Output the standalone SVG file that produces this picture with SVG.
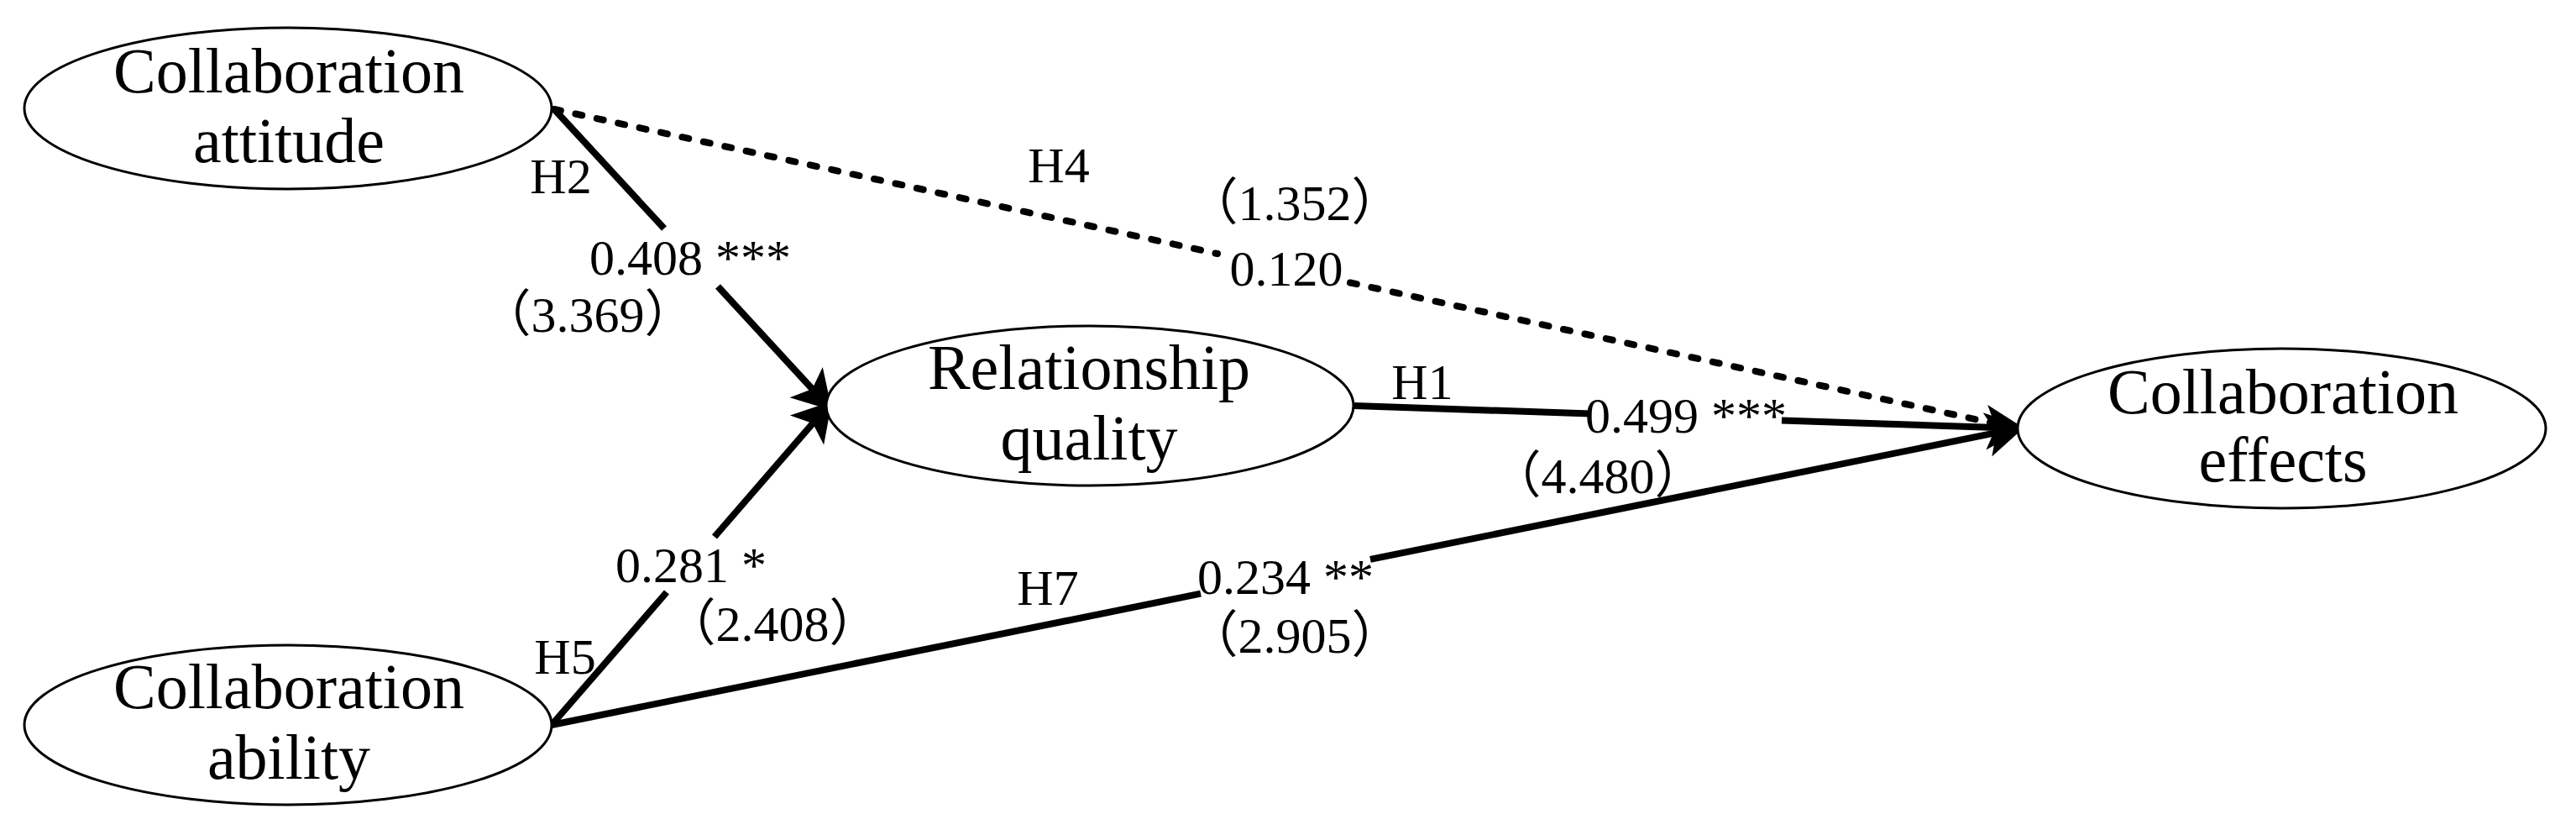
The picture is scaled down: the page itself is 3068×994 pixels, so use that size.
<svg xmlns="http://www.w3.org/2000/svg" width="3068" height="994" viewBox="0 0 3068 994">
<style>
.node ellipse{fill:#fff;stroke:#000;stroke-width:3}
.nt{font-family:'Liberation Serif','Noto Sans CJK SC',serif;font-size:76px;fill:#000;text-anchor:middle}
.lb{font-family:'Liberation Serif','Noto Sans CJK SC',serif;font-size:60px;fill:#000;text-anchor:middle}
.solid{fill:none;stroke:#000;stroke-width:8}
.dot{fill:none;stroke:#000;stroke-width:8;stroke-linecap:round;stroke-dasharray:8 18}
</style>
<defs>
<marker id="arr" markerUnits="userSpaceOnUse" orient="auto" markerWidth="80" markerHeight="80" refX="0" refY="0" viewBox="-20 -30 60 60" overflow="visible">
<path d="M26 0 L-8 -20 L0 0 L-8 20 Z" fill="#000"/>
</marker>
</defs>
<rect width="3068" height="994" fill="#fff"/>
<g id="connectors">
<path class="dot" d="M660 130 L1450 302 M1608 336.5 L2375 504"/>
<path class="solid" d="M660 130 L791 272 M855 341 L967.4 463" marker-end="url(#arr)"/>
<path class="solid" d="M657 863 L794 705 M851 639 L968 504" marker-end="url(#arr)"/>
<path class="solid" d="M1613 483 L1895 492.6 M2122 500.4 L2377 509.1" marker-end="url(#arr)"/>
<path class="solid" d="M657 863 L1430 706.7 M1632 665.9 L2377.5 515.2" marker-end="url(#arr)"/>
<text class="lb" x="668" y="230">H2</text>
<text class="lb" x="822" y="327">0.408 ***</text>
<text class="lb" x="700" y="395">（3.369）</text>
<text class="lb" x="1261" y="217">H4</text>
<text class="lb" x="1542" y="262">（1.352）</text>
<text class="lb" x="1532" y="340">0.120</text>
<text class="lb" x="1694" y="475">H1</text>
<text class="lb" x="2008" y="515">0.499 ***</text>
<text class="lb" x="1903" y="587">（4.480）</text>
<text class="lb" x="823" y="693">0.281 *</text>
<text class="lb" x="920" y="763">（2.408）</text>
<text class="lb" x="673" y="802">H5</text>
<text class="lb" x="1248" y="720">H7</text>
<text class="lb" x="1531" y="707">0.234 **</text>
<text class="lb" x="1542" y="777">（2.905）</text>
</g>
<g id="node-attitude" class="node">
<ellipse cx="343" cy="129" rx="314" ry="96"/>
<text class="nt" x="344" y="110">Collaboration</text>
<text class="nt" x="344" y="193">attitude</text>
</g>
<g id="node-relationship" class="node">
<ellipse cx="1298" cy="483" rx="314" ry="95"/>
<text class="nt" x="1297" y="463">Relationship</text>
<text class="nt" x="1297" y="547">quality</text>
</g>
<g id="node-ability" class="node">
<ellipse cx="343" cy="863" rx="314" ry="95"/>
<text class="nt" x="344" y="843">Collaboration</text>
<text class="nt" x="344" y="927">ability</text>
</g>
<g id="node-effects" class="node">
<ellipse cx="2717.5" cy="510" rx="314.5" ry="95"/>
<text class="nt" x="2719" y="492">Collaboration</text>
<text class="nt" x="2719" y="573">effects</text>
</g>
</svg>
